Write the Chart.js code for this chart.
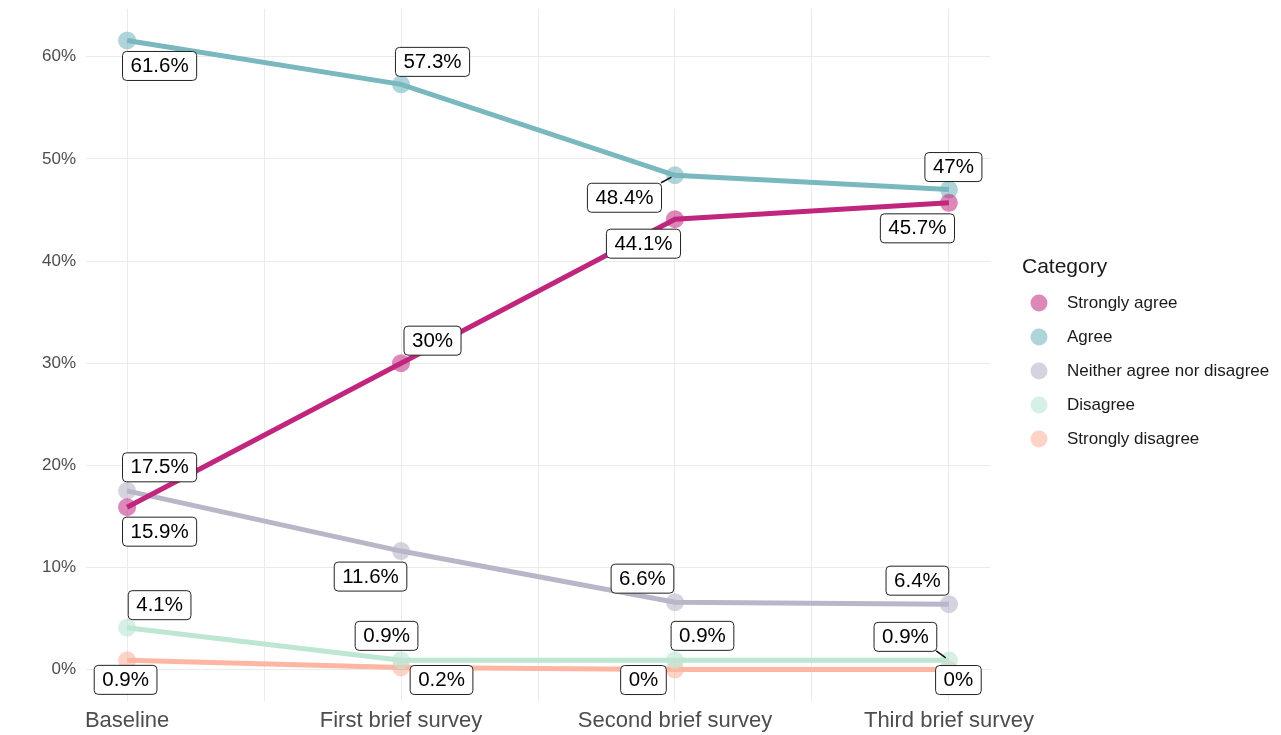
<!DOCTYPE html>
<html>
<head>
<meta charset="utf-8">
<script src="https://cdn.jsdelivr.net/npm/chart.js@4/dist/chart.umd.min.js"></script>
<style>
    body { margin: 0; background: #fff; }
    canvas { display: block; }
</style>
</head>
<body>
<canvas id="surveyChart" width="1281" height="735"></canvas>
<script>
const categories = ['Baseline', 'First brief survey', 'Second brief survey', 'Third brief survey'];
const seriesNames = ['Strongly agree', 'Agree', 'Neither agree nor disagree', 'Disagree', 'Strongly disagree'];
const stronglyAgree = [15.9, 30, 44.1, 45.7];
const agree = [61.6, 57.3, 48.4, 47];
const neither = [17.5, 11.6, 6.6, 6.4];
const disagree = [4.1, 0.9, 0.9, 0.9];
const stronglyDisagree = [0.9, 0.2, 0, 0];
const yTicks = [0, 10, 20, 30, 40, 50, 60];

const lineColors = ['#c0267e', '#7ab8bf', '#b9b6c9', '#bde6d3', '#fdb6a2'];
const pointColors = ['rgba(192,38,126,0.55)', 'rgba(122,184,191,0.6)', 'rgba(185,182,201,0.6)', 'rgba(189,230,211,0.6)', 'rgba(253,182,162,0.6)'];
const fontFamily = '"Liberation Sans", Arial, sans-serif';

// where the repelled labels sit, relative to their point (px)
const labelOffsets = [
    [[32, 24], [31, -23], [-32, 24], [-32, 25]],
    [[32, 25], [31, -23], [-51, 22], [4, -23]],
    [[32, -24], [-31, 25], [-33, -24], [-32, -24]],
    [[32, -23], [-15, -25], [27, -25], [-44, -24]],
    [[-2, 19], [40, 12], [-32, 10], [9, 10]]
];
const leaderLines = [
    [false, false, false, false],
    [false, false, true, false],
    [false, false, false, false],
    [false, false, false, true],
    [false, false, false, false]
];

const allSeries = [stronglyAgree, agree, neither, disagree, stronglyDisagree];

function toPoints(values) {
    return values.map((v, i) => ({ x: i + 1, y: v }));
}

const labelPlugin = {
    id: 'boxLabels',
    afterDatasetsDraw(chart) {
        const ctx = chart.ctx;
        const xs = chart.scales.x;
        const ys = chart.scales.y;
        ctx.save();
        ctx.font = '20.5px ' + fontFamily;
        ctx.textAlign = 'center';
        ctx.textBaseline = 'middle';
        chart.data.datasets.forEach((ds, i) => {
            ds.data.forEach((p, j) => {
                const px = xs.getPixelForValue(p.x);
                const py = ys.getPixelForValue(p.y);
                const [dx, dy] = labelOffsets[i][j];
                const text = p.y + '%';
                const w = ctx.measureText(text).width + 16;
                const h = 29;
                const cx = px + dx, cy = py + dy;
                const left = cx - w / 2, top = cy - h / 2;
                if (leaderLines[i][j]) {
                    const nx = Math.max(left, Math.min(px, left + w));
                    const ny = Math.max(top, Math.min(py, top + h));
                    const len = Math.hypot(px - nx, py - ny);
                    const ex = px - (px - nx) * 4 / len;
                    const ey = py - (py - ny) * 4 / len;
                    ctx.strokeStyle = '#111';
                    ctx.lineWidth = 1.5;
                    ctx.beginPath();
                    ctx.moveTo(nx, ny);
                    ctx.lineTo(ex, ey);
                    ctx.stroke();
                }
                ctx.fillStyle = '#fff';
                ctx.strokeStyle = '#222';
                ctx.lineWidth = 1;
                ctx.beginPath();
                ctx.roundRect(left + 0.5, top + 0.5, w, h, 4);
                ctx.fill();
                ctx.stroke();
                ctx.fillStyle = '#000';
                ctx.fillText(text, cx + 0.5, cy + 1);
            });
        });
        ctx.restore();
    }
};

const legendPlugin = {
    id: 'sideLegend',
    afterDraw(chart) {
        const ctx = chart.ctx;
        ctx.save();
        ctx.textBaseline = 'middle';
        ctx.textAlign = 'left';
        ctx.fillStyle = '#1a1a1a';
        ctx.font = '21px ' + fontFamily;
        ctx.fillText('Category', 1022, 267);
        ctx.font = '17px ' + fontFamily;
        seriesNames.forEach((name, i) => {
            const y = 303 + i * 34;
            ctx.fillStyle = pointColors[i];
            ctx.beginPath();
            ctx.arc(1039, y, 8.5, 0, Math.PI * 2);
            ctx.fill();
            ctx.fillStyle = '#1a1a1a';
            ctx.fillText(name, 1067, y);
        });
        ctx.restore();
    }
};

const datasets = seriesNames.map((name, i) => ({
    label: name,
    data: toPoints(allSeries[i]),
    borderColor: lineColors[i],
    borderWidth: 5,
    pointRadius: 9,
    pointHoverRadius: 9,
    pointBorderWidth: 0,
    pointBackgroundColor: pointColors[i],
    tension: 0,
    fill: false
}));

new Chart(document.getElementById('surveyChart').getContext('2d'), {
    type: 'line',
    data: { datasets: datasets },
    options: {
        responsive: false,
        animation: false,
        devicePixelRatio: 1,
        layout: { padding: { left: 0, right: 291, top: 8, bottom: 0 } },
        plugins: {
            legend: { display: false },
            tooltip: { enabled: false }
        },
        scales: {
            x: {
                type: 'linear',
                min: 0.85,
                max: 4.15,
                afterBuildTicks: axis => {
                    axis.ticks = [1, 1.5, 2, 2.5, 3, 3.5, 4].map(v => ({ value: v }));
                },
                afterFit: axis => {
                    axis.height = 34;
                    axis.paddingLeft = 0;
                    axis.paddingRight = 0;
                },
                grid: { color: '#ebebeb', lineWidth: 1, drawTicks: false },
                border: { display: false },
                ticks: {
                    autoSkip: false,
                    maxRotation: 0,
                    padding: 7,
                    color: '#4d4d4d',
                    font: { size: 22, family: fontFamily },
                    callback: v => Number.isInteger(v) ? categories[v - 1] : ''
                }
            },
            y: {
                min: -3.08,
                max: 64.68,
                afterBuildTicks: axis => {
                    axis.ticks = yTicks.map(v => ({ value: v }));
                },
                afterFit: axis => {
                    axis.width = 86;
                    axis.paddingTop = 0;
                    axis.paddingBottom = 0;
                },
                grid: { color: '#ebebeb', lineWidth: 1, drawTicks: false },
                border: { display: false },
                ticks: {
                    padding: 10,
                    color: '#4d4d4d',
                    font: { size: 17, family: fontFamily },
                    callback: v => v + '%'
                }
            }
        }
    },
    plugins: [labelPlugin, legendPlugin]
});
</script>
</body>
</html>
